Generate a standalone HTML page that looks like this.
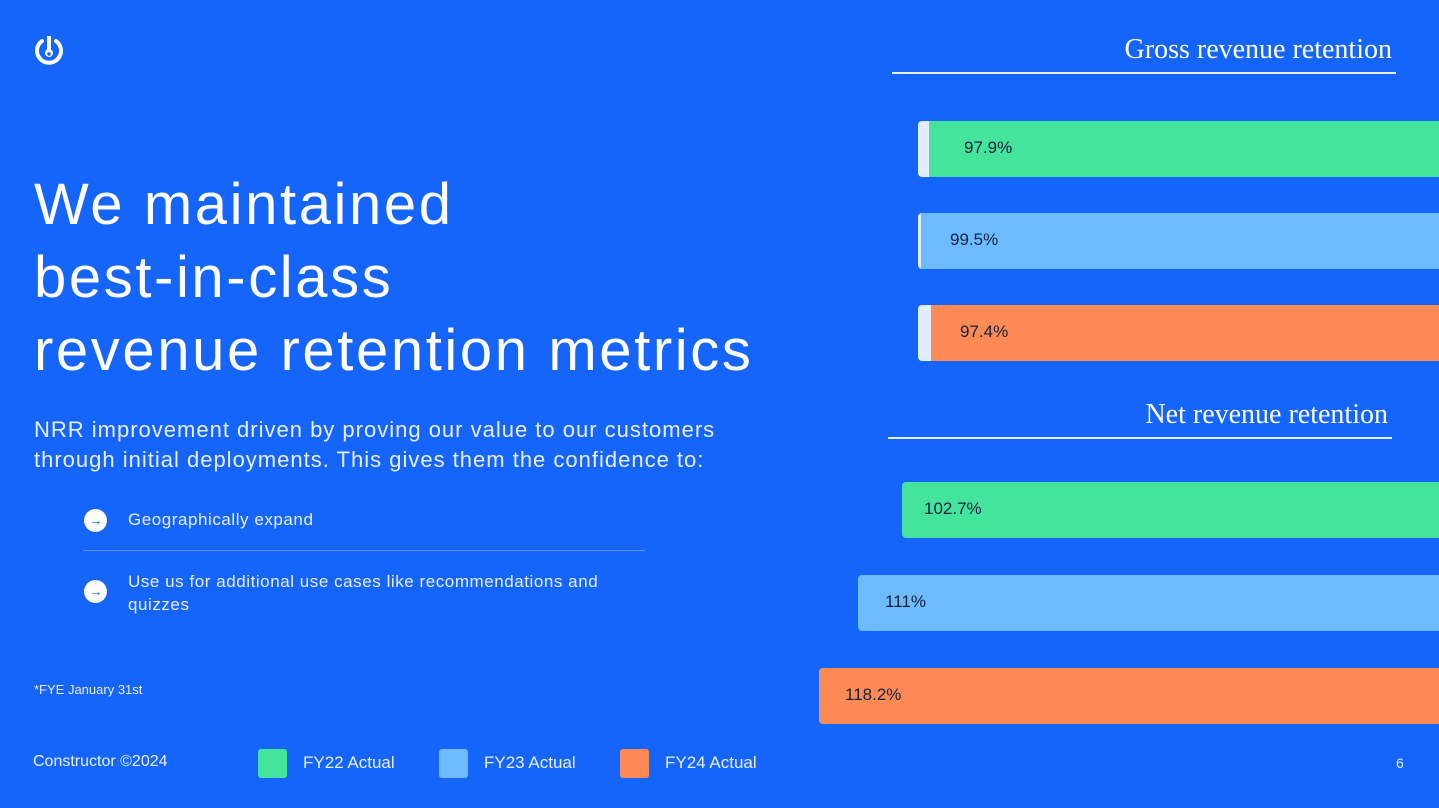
<!DOCTYPE html>
<html><head><style>
body{margin:0;width:1439px;height:808px;background:#1565fa;position:relative;overflow:hidden;font-family:"Liberation Sans",sans-serif;color:#fff}
.a{position:absolute}
.bar{position:absolute;right:0;height:56px;border-radius:4px 0 0 4px;overflow:hidden;background:#e3ecfb}
.bar div{position:absolute;top:0;bottom:0;right:0}
.bar span{position:absolute;top:17px;font-size:17px;color:#14213d}
.h{font-family:"Liberation Serif",serif;font-size:28px;text-align:right}
.ln{height:2px;background:#e8eefc}
.sq{position:absolute;width:29px;height:29px;border-radius:3px;top:749px}
.lg{position:absolute;top:753px;font-size:17px;color:#e8eefc}
</style></head><body>
<svg class="a" style="left:32px;top:33px" width="34" height="34" viewBox="0 0 34 34"><path d="M10 8 A12 12 0 1 0 24 8" fill="none" stroke="#fff" stroke-width="4" stroke-linecap="round"/><rect x="15" y="3" width="4" height="15" fill="#fff"/><circle cx="17" cy="20" r="4" fill="#fff"/><circle cx="17" cy="21" r="1.8" fill="#1565fa"/></svg>
<div class="a" style="left:34px;top:168px;font-size:58px;line-height:73px;letter-spacing:2.6px">We maintained<br>best-in-class<br>revenue retention metrics</div>
<div class="a" style="left:34px;top:415px;font-size:22px;line-height:30px;letter-spacing:1px;color:#e8eefc">NRR improvement driven by proving our value to our customers<br>through initial deployments. This gives them the confidence to:</div>
<div class="a" style="left:84px;top:509px;width:23px;height:23px;border-radius:50%;background:#fff;color:#1565fa;font-size:14px;text-align:center;line-height:23px">→</div>
<div class="a" style="left:128px;top:510px;font-size:17px;letter-spacing:0.55px;color:#e8eefc">Geographically expand</div>
<div class="a" style="left:83px;top:550px;width:562px;height:1px;background:#5b93fb"></div>
<div class="a" style="left:84px;top:580px;width:23px;height:23px;border-radius:50%;background:#fff;color:#1565fa;font-size:14px;text-align:center;line-height:23px">→</div>
<div class="a" style="left:128px;top:570px;font-size:17px;line-height:23px;letter-spacing:0.55px;color:#e8eefc">Use us for additional use cases like recommendations and<br>quizzes</div>
<div class="a" style="left:34px;top:682px;font-size:13px;color:#e8eefc">*FYE January 31st</div>
<div class="a" style="left:33px;top:753px;font-size:16px;color:#e8eefc">Constructor ©2024</div>
<div class="sq" style="left:258px;background:#45e49d"></div><div class="lg" style="left:303px">FY22 Actual</div>
<div class="sq" style="left:439px;background:#6dbbfe"></div><div class="lg" style="left:484px">FY23 Actual</div>
<div class="sq" style="left:620px;background:#ff8a55"></div><div class="lg" style="left:665px">FY24 Actual</div>
<div class="a" style="left:1396px;top:755px;font-size:14px;color:#e8eefc">6</div>
<div class="a h" style="right:47px;top:34px">Gross revenue retention</div>
<div class="a ln" style="left:892px;width:504px;top:72px"></div>
<div class="a h" style="right:51px;top:399px">Net revenue retention</div>
<div class="a ln" style="left:888px;width:504px;top:437px"></div>
<div class="bar" style="left:918px;top:121px"><div style="left:11px;background:#45e49d"></div><span style="left:46px">97.9%</span></div>
<div class="bar" style="left:918px;top:213px"><div style="left:3px;background:#6dbbfe"></div><span style="left:32px">99.5%</span></div>
<div class="bar" style="left:918px;top:305px"><div style="left:13px;background:#ff8a55"></div><span style="left:42px">97.4%</span></div>
<div class="bar" style="left:902px;top:482px;background:#45e49d"><span style="left:22px">102.7%</span></div>
<div class="bar" style="left:858px;top:575px;background:#6dbbfe"><span style="left:27px">111%</span></div>
<div class="bar" style="left:819px;top:668px;background:#ff8a55"><span style="left:26px">118.2%</span></div>
</body></html>
